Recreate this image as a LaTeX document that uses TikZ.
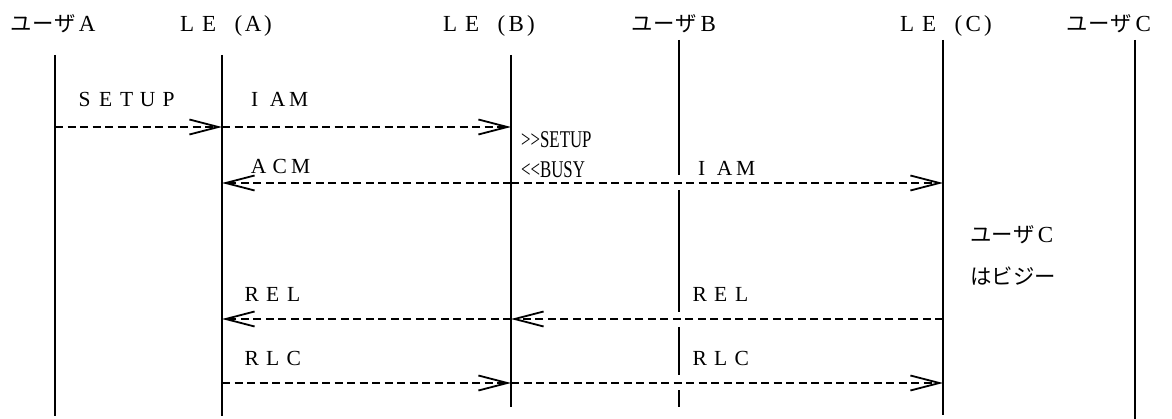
\documentclass[tikz,border=0pt]{standalone}
\usepackage{fontspec}
\setmainfont{Liberation Serif}
\newfontfamily\jp[Scale=0.93]{Noto Sans CJK JP}
\usetikzlibrary{arrows.meta}
\newlength\fwpitch
\setlength\fwpitch{22pt}
\newcommand\fw[2][c]{\makebox[\fwpitch][#1]{#2}}
\tikzset{
life/.style={line width=1.6pt},
msg/.style={line width=1.5pt,dash pattern=on 8pt off 4.5pt,-{Straight Barb[length=29pt,width=15pt,line width=1.8pt]}},
hdr/.style={inner sep=0pt,anchor=base west,font=\fontsize{23}{24}\selectfont},
lbl/.style={inner sep=0pt,anchor=base west,font=\fontsize{21.5}{22}\selectfont\setlength\fwpitch{21pt}},
note/.style={inner sep=0pt,anchor=base west,font=\fontsize{24}{26}\selectfont},
}
\begin{document}
\begin{tikzpicture}[x=1pt,y=-1pt]
\useasboundingbox(0,0)rectangle(1172,419);
% headers
\node[hdr](hUA)at(10,32){{\jp\fw{ユ}\fw{ー}\fw{ザ}}\fw{A}};
\node[hdr](hLA)at(176,32){\fw{L}\fw{E}\fw[r]{(}\fw{A}\fw[l]{)}};
\node[hdr](hLB)at(439,32){\fw{L}\fw{E}\fw[r]{(}\fw{B}\fw[l]{)}};
\node[hdr](hUB)at(631,32){{\jp\fw{ユ}\fw{ー}\fw{ザ}}\fw{B}};
\node[hdr](hLC)at(896,32){\fw{L}\fw{E}\fw[r]{(}\fw{C}\fw[l]{)}};
\node[hdr](hUC)at(1066,32){{\jp\fw{ユ}\fw{ー}\fw{ザ}}\fw{C}};
% lifelines
\coordinate(UAt)at(55,55);\coordinate(UAb)at(55,416);
\coordinate(LAt)at(222,55);\coordinate(LAb)at(222,416);
\coordinate(LBt)at(511,55);\coordinate(LBb)at(511,407);
\coordinate(UBt)at(679,40);\coordinate(UBb)at(679,407);
\coordinate(LCt)at(943,40);\coordinate(LCb)at(943,415);
\coordinate(UCt)at(1135,40);\coordinate(UCb)at(1135,419);
\draw[life](UAt)--(UAb);
\draw[life](LAt)--(LAb);
\draw[life](LBt)--(LBb);
\draw[life](UBt)--(679,175)(679,190)--(679,312)(679,327)--(679,375)(679,390)--(UBb);
\draw[life](LCt)--(LCb);
\draw[life](UCt)--(UCb);
% message ends
\coordinate(UA1)at(55,127);\coordinate(LA1)at(222,127);\coordinate(LB1)at(511,127);
\coordinate(LA2)at(222,183);\coordinate(LB2)at(511,183);\coordinate(LC2)at(943,183);
\coordinate(LA3)at(222,319);\coordinate(LB3)at(511,319);\coordinate(LC3)at(943,319);
\coordinate(LA4)at(222,383);\coordinate(LB4)at(511,383);\coordinate(LC4)at(943,383);
\draw[msg](UA1)--(LA1);
\draw[msg](LA1)--(LB1);
\draw[msg](LB2)--(LA2);
\draw[msg](LB2)--(LC2);
\draw[msg](LC3)--(LB3);
\draw[msg](LB3)--(LA3);
\draw[msg](LA4)--(LB4);
\draw[msg](LB4)--(LC4);
% labels
\node[lbl](setup)at(74,107){\fw{S}\fw{E}\fw{T}\fw{U}\fw{P}};
\node[lbl](iam1)at(242,107){\makebox[25pt]{I}\fw{A}\fw{M}};
\node[lbl](acm)at(248,174){\fw{A}\fw{C}\fw{M}};
\node[lbl](iam2)at(689,176){\makebox[25pt]{I}\fw{A}\fw{M}};
\node[lbl](rel1)at(241,302){\fw{R}\fw{E}\fw{L}};
\node[lbl](rel2)at(689,302){\fw{R}\fw{E}\fw{L}};
\node[lbl](rlc1)at(241,365){\fw{R}\fw{L}\fw{C}};
\node[lbl](rlc2)at(689,365){\fw{R}\fw{L}\fw{C}};
\node[note](fwd)at(521,148){\scalebox{.7}[1]{>\kern0pt>SETUP}};
\node[note](bsy)at(521,178){\scalebox{.7}[1]{<\kern0pt<BUSY}};
\node[hdr,font=\fontsize{23}{24}\selectfont\setlength\fwpitch{21.5pt}](busy1)at(970,243){{\jp\fw{ユ}\fw{ー}\fw{ザ}}\fw{C}};
\node[hdr,font=\fontsize{23}{24}\selectfont\setlength\fwpitch{21.5pt}](busy2)at(970,285){\jp\fw{は}\fw{ビ}\fw{ジ}\fw{ー}};
\end{tikzpicture}
\end{document}
